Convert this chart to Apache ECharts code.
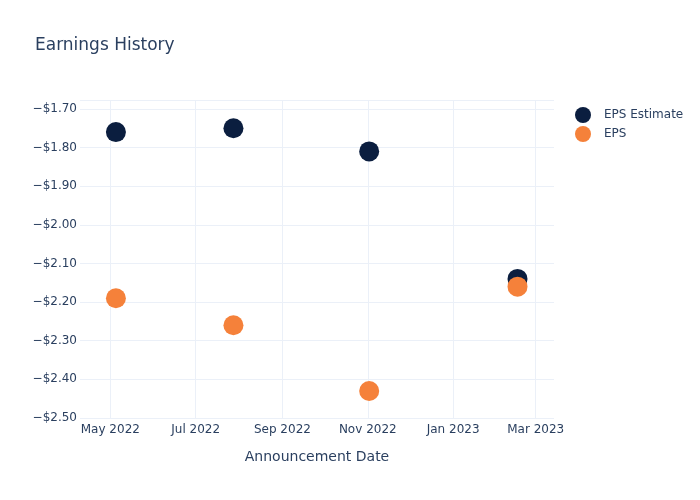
<!DOCTYPE html>
<html>
<head>
<meta charset="utf-8">
<script src="https://cdn.jsdelivr.net/npm/echarts@6/dist/echarts.min.js"></script>
<style>html,body{margin:0;padding:0;background:#fff}#c{width:700px;height:500px}</style>
</head>
<body>
<div id="c"></div>
<script>
const dates = ['2022-05-05', '2022-07-28', '2022-11-02', '2023-02-16'];
const epsEstimate = [-1.76, -1.75, -1.81, -2.14];
const eps = [-2.19, -2.26, -2.43, -2.16];
const seriesNames = ['EPS Estimate', 'EPS'];
const xTickDates = ['2022-05-01', '2022-07-01', '2022-09-01', '2022-11-01', '2023-01-01', '2023-03-01'];
const monthNames = ['Jan','Feb','Mar','Apr','May','Jun','Jul','Aug','Sep','Oct','Nov','Dec'];

const chart = echarts.init(document.getElementById('c'), null, {renderer: 'canvas'});
const textColor = '#2a3f5f';
const gridColor = '#ebf0f8';
const font = '"DejaVu Sans", sans-serif';
const ts = d => new Date(d + 'T00:00:00').getTime();
const xTicks = xTickDates.map(ts);

function pts(vals) {
  return dates.map((d, i) => [ts(d), vals[i]]);
}

chart.setOption({
  backgroundColor: '#fff',
  animation: false,
  title: {
    text: 'Earnings History',
    left: 35, top: 37, padding: 0,
    textStyle: {color: textColor, fontSize: 17, fontWeight: 'normal', fontFamily: font}
  },
  legend: {
    data: seriesNames,
    orient: 'vertical',
    left: 575, top: 107, padding: 0,
    itemWidth: 16, itemHeight: 16, itemGap: 3,
    icon: 'circle',
    textStyle: {color: textColor, fontSize: 12, fontFamily: font, padding: [0, 0, 0, 8]}
  },
  grid: {left: 80, right: 146, top: 100, bottom: 82, containLabel: false},
  xAxis: {
    type: 'value',
    min: new Date('2022-04-09T08:00:00').getTime(),
    max: new Date('2023-03-14T02:00:00').getTime(),
    name: 'Announcement Date',
    nameLocation: 'middle',
    nameGap: 32,
    nameTextStyle: {color: textColor, fontSize: 14, fontFamily: font},
    axisLine: {show: false},
    axisTick: {show: false, customValues: xTicks},
    splitLine: {show: true, lineStyle: {color: gridColor, width: 1}},
    axisLabel: {
      color: textColor, fontSize: 12, fontFamily: font, margin: 6,
      customValues: xTicks,
      formatter: function (v) { const d = new Date(v); return monthNames[d.getMonth()] + ' ' + d.getFullYear(); }
    }
  },
  yAxis: {
    type: 'value',
    min: -2.5, max: -1.677, interval: 0.1,
    axisLine: {show: false},
    axisTick: {show: false},
    splitLine: {show: true, lineStyle: {color: gridColor, width: 1}},
    axisLabel: {
      color: textColor, fontSize: 12, fontFamily: font, margin: 3,
      showMaxLabel: false,
      formatter: function (v) { return '\u2212$' + Math.abs(v).toFixed(2); }
    }
  },
  series: [
    {name: seriesNames[0], type: 'scatter', data: pts(epsEstimate), symbolSize: 20,
     itemStyle: {color: '#0b1e3f', opacity: 1}},
    {name: seriesNames[1], type: 'scatter', data: pts(eps), symbolSize: 20,
     itemStyle: {color: '#f5813a', opacity: 1}}
  ]
});
</script>
</body>
</html>
